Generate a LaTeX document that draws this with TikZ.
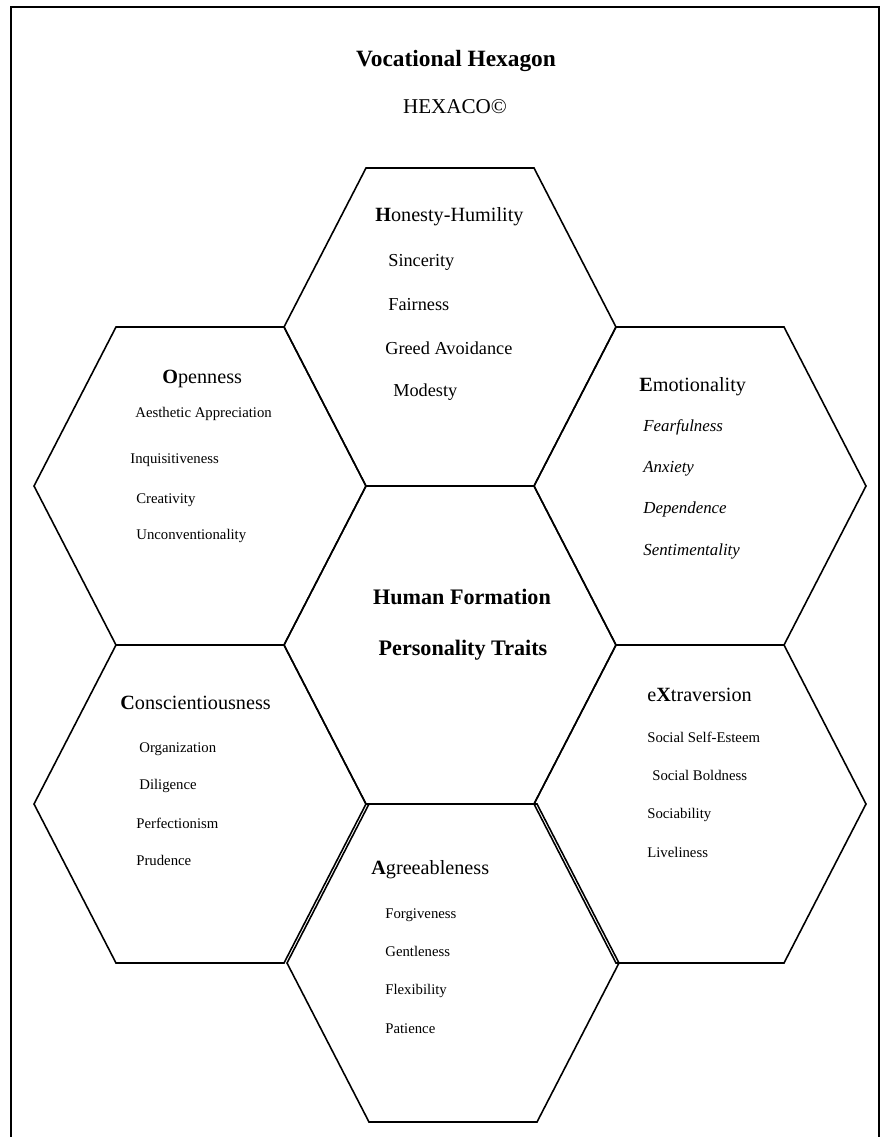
\documentclass[tikz,border=0pt]{standalone}
\usepackage{fontspec}
\setmainfont{Liberation Serif}
\usetikzlibrary{positioning}

\begin{document}
\begin{tikzpicture}[x=0.02cm,y=-0.02cm,
    cell/.style={draw=black,line width=0.9pt,line join=miter},
    trait/.style={anchor=west,inner sep=0pt,text height=1.5ex,text depth=0pt},
    head/.style={trait,font=\fontsize{11.5}{13}\selectfont},
    facet/.style={trait,font=\fontsize{10.4}{12}\selectfont},
    minor/.style={trait,font=\fontsize{8.4}{10}\selectfont},
    mood/.style={trait,font=\fontsize{9.6}{11}\selectfont\itshape}]
                \useasboundingbox(0, 0) rectangle (882, 1137);
                % frame, open at the bottom
                \draw[line width=0.8pt](11, 1137) -- (11, 7) -- (879, 7) -- (879, 1137);
                % the seven cells
                \foreach \n/\cx/\cy in {H/450/327, O/200/486, E/700/486, HF/450/645, C/200/804, X/700/804, A/453/963}{
                    \coordinate(\n)at(\cx, \cy);
                    \draw[cell](\cx-166, \cy) -- (\cx-84, \cy-159) -- (\cx+84, \cy-159)
                        -- (\cx+166, \cy) -- (\cx+84, \cy+159) -- (\cx-84, \cy+159) -- cycle;
                }
                \node[anchor=base,font=\fontsize{13.3}{16}\selectfont\bfseries](title)at(456, 66){Vocational Hexagon};
                \node[anchor=base,font=\fontsize{12}{14}\selectfont](hexaco)at(455, 113){HEXACO©};
                % Honesty-Humility
                \node[head](Hh)at(375, 215){\textbf{H}onesty-Humility};
                \node[facet](H1)at(388, 260){Sincerity};
                \node[facet](H2)at(388, 304){Fairness};
                \node[facet](H3)at(385, 348){Greed Avoidance};
                \node[facet](H4)at(393, 390){Modesty};
                % Openness
                \node[head](Oh)at(162, 377){\textbf{O}penness};
                \node[minor](O1)at(135, 411){Aesthetic Appreciation};
                \node[minor](O2)at(130, 457){Inquisitiveness};
                \node[minor](O3)at(136, 497){Creativity};
                \node[minor](O4)at(136, 533){Unconventionality};
                % Emotionality
                \node[head](Eh)at(639, 385){\textbf{E}motionality};
                \node[mood](E1)at(643, 425){Fearfulness};
                \node[mood](E2)at(643, 466){Anxiety};
                \node[mood](E3)at(643, 507){Dependence};
                \node[mood](E4)at(643, 549){Sentimentality};
                % centre
                \node[font=\fontsize{12.6}{15}\selectfont\bfseries,inner sep=0pt,text height=1.5ex,text depth=0pt](HF1)at(462, 598){Human Formation};
                \node[font=\fontsize{12.6}{15}\selectfont\bfseries,inner sep=0pt,text height=1.5ex,text depth=0pt](HF2)at(463, 649){Personality Traits};
                % Conscientiousness
                \node[head](Ch)at(120, 703){\textbf{C}onscientiousness};
                \node[minor](C1)at(139, 746){Organization};
                \node[minor](C2)at(139, 783){Diligence};
                \node[minor](C3)at(136, 822){Perfectionism};
                \node[minor](C4)at(136, 859){Prudence};
                % eXtraversion
                \node[head](Xh)at(647, 695){e\textbf{X}traversion};
                \node[minor](X1)at(647, 736){Social Self-Esteem};
                \node[minor](X2)at(652, 774){Social Boldness};
                \node[minor](X3)at(647, 812){Sociability};
                \node[minor](X4)at(647, 851){Liveliness};
                % Agreeableness
                \node[head](Ah)at(371, 868){\textbf{A}greeableness};
                \node[minor](A1)at(385, 912){Forgiveness};
                \node[minor](A2)at(385, 950){Gentleness};
                \node[minor](A3)at(385, 988){Flexibility};
                \node[minor](A4)at(385, 1027){Patience};
            \end{tikzpicture}
\end{document}
